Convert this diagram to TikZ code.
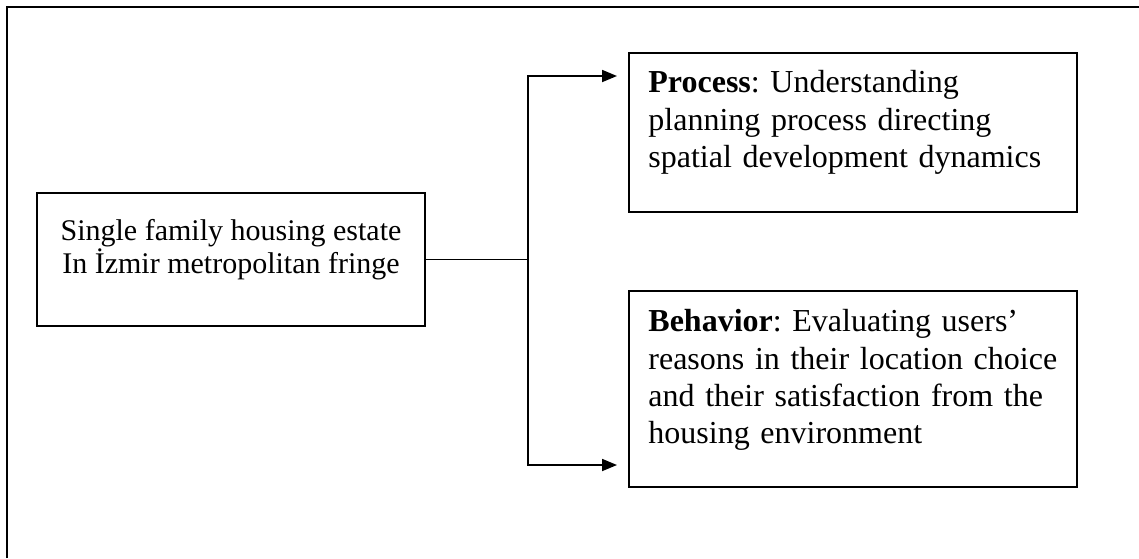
\documentclass[tikz,border=0pt]{standalone}
\usepackage{fontspec}
\setmainfont{Liberation Serif}
\usetikzlibrary{arrows.meta, positioning}

\begin{document}
\begin{tikzpicture}[
  x=0.5pt, y=-0.5pt,
  frame/.style={line width=1.4pt},
  box/.style={rectangle, draw=black, line width=1pt, inner sep=0pt},
  ctext/.style={inner sep=0pt, align=center, font=\fontsize{15pt}{14.3pt}\selectfont\frenchspacing},
  rtext/.style={inner sep=0pt, align=left, text width=215pt, anchor=north west, font=\fontsize{16pt}{18.7pt}\selectfont\frenchspacing},
  link/.style={line width=0.9pt},
  arrow/.style={line width=0.9pt, -{Triangle[length=7.5pt, width=6pt]}, shorten >=5.5pt}
]
\useasboundingbox (0,0) rectangle (1139,558);

% Frame (open at right and bottom)
\draw [frame] (7,558) -- (7,7) -- (1139,7);

% Boxes
\node (estate) [box, minimum width=194pt, minimum height=66.5pt] at (231,259.5) {};
\node (process) [box, minimum width=224pt, minimum height=79.5pt] at (853,132.5) {};
\node (behavior) [box, minimum width=224pt, minimum height=98pt] at (853,389) {};

% Texts
\node (estatetxt) [ctext] at ([yshift=5pt]estate.center) {Single family housing estate\\In İzmir metropolitan fringe};
\node (processtxt) [rtext] at ([xshift=10pt, yshift=-9pt]process.north west) {\textbf{Process}: Understanding\\planning process directing\\spatial development dynamics};
\node (behaviortxt) [rtext] at ([xshift=10pt, yshift=-9.5pt]behavior.north west) {\textbf{Behavior}: Evaluating users’\\reasons in their location choice\\and their satisfaction from the\\housing environment};

% Arrows
\coordinate (fork) at ([xshift=51pt]estate.east);
\draw [link] (estate.east) -- (fork);
\draw [arrow] (fork) |- ([yshift=-12pt]process.north west);
\draw [arrow] (fork) |- ([yshift=11.5pt]behavior.south west);
\end{tikzpicture}
\end{document}
